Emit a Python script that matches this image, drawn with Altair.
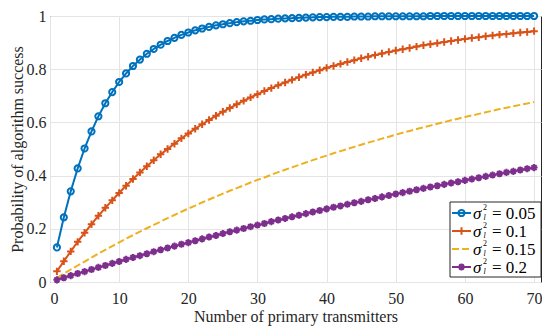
import altair as alt
import pandas as pd

# ---------------- data ----------------
N = list(range(1, 71))
series_keys = ["0.05", "0.1", "0.15", "0.2"]
colors = ["#0072BD", "#D95319", "#EDB120", "#7E2F8E"]

p_005 = [0.130, 0.243, 0.341, 0.427, 0.502, 0.566, 0.623, 0.672, 0.714, 0.752,
         0.784, 0.812, 0.836, 0.858, 0.876, 0.892, 0.906, 0.918, 0.929, 0.938,
         0.946, 0.953, 0.959, 0.965, 0.969, 0.973, 0.977, 0.980, 0.982, 0.985,
         0.987, 0.988, 0.990, 0.991, 0.992, 0.993, 0.994, 0.995, 0.996, 0.996,
         0.997, 0.997, 0.997, 0.998, 0.998, 0.998, 0.999, 0.999, 0.999, 0.999,
         0.999, 0.999, 0.999, 0.999, 1.000, 1.000, 1.000, 1.000, 1.000, 1.000,
         1.000, 1.000, 1.000, 1.000, 1.000, 1.000, 1.000, 1.000, 1.000, 1.000]

p_01 = [0.040, 0.078, 0.115, 0.151, 0.185, 0.217, 0.249, 0.279, 0.307, 0.335,
        0.362, 0.387, 0.412, 0.435, 0.458, 0.480, 0.500, 0.520, 0.540, 0.558,
        0.576, 0.593, 0.609, 0.625, 0.640, 0.654, 0.668, 0.681, 0.694, 0.706,
        0.718, 0.729, 0.740, 0.750, 0.760, 0.770, 0.779, 0.788, 0.796, 0.805,
        0.812, 0.820, 0.827, 0.834, 0.841, 0.847, 0.853, 0.859, 0.865, 0.870,
        0.875, 0.880, 0.885, 0.890, 0.894, 0.898, 0.902, 0.906, 0.910, 0.914,
        0.917, 0.920, 0.924, 0.927, 0.930, 0.932, 0.935, 0.938, 0.940, 0.943]

p_015 = [0.016, 0.032, 0.047, 0.062, 0.077, 0.092, 0.107, 0.121, 0.135, 0.149,
         0.163, 0.176, 0.189, 0.202, 0.215, 0.227, 0.240, 0.252, 0.264, 0.276,
         0.287, 0.299, 0.310, 0.321, 0.332, 0.343, 0.353, 0.363, 0.374, 0.384,
         0.393, 0.403, 0.413, 0.422, 0.431, 0.440, 0.449, 0.458, 0.467, 0.475,
         0.484, 0.492, 0.500, 0.508, 0.516, 0.524, 0.531, 0.539, 0.546, 0.554,
         0.561, 0.568, 0.575, 0.581, 0.588, 0.595, 0.601, 0.608, 0.614, 0.620,
         0.626, 0.632, 0.638, 0.644, 0.650, 0.655, 0.661, 0.666, 0.671, 0.677]

p_02 = [0.008, 0.016, 0.024, 0.032, 0.039, 0.047, 0.055, 0.062, 0.070, 0.077,
        0.085, 0.092, 0.099, 0.106, 0.114, 0.121, 0.128, 0.135, 0.142, 0.148,
        0.155, 0.162, 0.169, 0.175, 0.182, 0.189, 0.195, 0.201, 0.208, 0.214,
        0.220, 0.227, 0.233, 0.239, 0.245, 0.251, 0.257, 0.263, 0.269, 0.275,
        0.281, 0.286, 0.292, 0.298, 0.303, 0.309, 0.314, 0.320, 0.325, 0.331,
        0.336, 0.341, 0.347, 0.352, 0.357, 0.362, 0.367, 0.372, 0.377, 0.382,
        0.387, 0.392, 0.397, 0.402, 0.407, 0.412, 0.416, 0.421, 0.426, 0.430]

x_ticks = [0, 10, 20, 30, 40, 50, 60, 70]
y_ticks = [0, 0.2, 0.4, 0.6, 0.8, 1]

# ---------------- build table ----------------
rows = []
for key, vals in zip(series_keys, [p_005, p_01, p_015, p_02]):
    for n, v in zip(N, vals):
        rows.append({"N": n, "P": v, "s": key})
df = pd.DataFrame(rows)

PLUS = "M-1,0L1,0M0,-1L0,1"
STAR = "M-1,0L1,0M0,-1L0,1M-0.7,-0.7L0.7,0.7M-0.7,0.7L0.7,-0.7"
shapes = {"0.05": "circle", "0.1": PLUS, "0.2": STAR}
sizes = {"0.05": 38, "0.1": 55, "0.2": 50}
dashes = {"0.05": [1, 0], "0.1": [1, 0], "0.15": [7, 3], "0.2": [1, 0]}

FONT = "Liberation Serif"
TXT = "#262626"
W, H = 491, 266

color = alt.Color("s:N", scale=alt.Scale(domain=series_keys, range=colors), legend=None)
dash = alt.StrokeDash("s:N", scale=alt.Scale(domain=series_keys,
                                             range=[dashes[k] for k in series_keys]),
                      legend=None)

x_enc = alt.X("N:Q", scale=alt.Scale(domain=[0, 71], nice=False),
              axis=alt.Axis(values=x_ticks, format="d", title="Number of primary transmitters",
                            titleY=39, titleBaseline="alphabetic", labelPadding=8,
                            labelFont=FONT, labelFontSize=16, titleFont=FONT, titleFontSize=16,
                            labelColor=TXT, titleColor=TXT, titleFontWeight="normal"))
y_enc = alt.Y("P:Q", scale=alt.Scale(domain=[0, 1], nice=False),
              axis=alt.Axis(values=y_ticks, format="~g", title="Probability of algorithm success",
                            titleX=-33, titleY=H / 2, titleAngle=270, titleBaseline="middle",
                            titleAlign="center", labelPadding=4,
                            labelFont=FONT, labelFontSize=16, titleFont=FONT, titleFontSize=16,
                            labelColor=TXT, titleColor=TXT, titleFontWeight="normal"))

lines = alt.Chart(df).mark_line(strokeWidth=2).encode(
    x=x_enc, y=y_enc, color=color, strokeDash=dash, detail="s:N")

point_layers = []
for i, key in enumerate(series_keys):
    if key not in shapes:
        continue
    point_layers.append(
        alt.Chart(df).transform_filter(alt.datum.s == key).mark_point(
            filled=False, strokeWidth=2, size=sizes[key], opacity=1,
            shape=shapes[key], color=colors[i]).encode(x="N:Q", y="P:Q"))

# ---------------- manual legend ----------------
one = pd.DataFrame({"a": [0]})
legend_layers = [
    alt.Chart(one).mark_rect(fill="white", stroke="#262626", strokeWidth=1).encode(
        x=alt.value(400), x2=alt.value(491), y=alt.value(186), y2=alt.value(261))
]
for i, key in enumerate(series_keys):
    yy = 197 + 18.0 * i
    legend_layers.append(
        alt.Chart(one).mark_rule(strokeWidth=2, color=colors[i], strokeDash=dashes[key]).encode(
            x=alt.value(402), x2=alt.value(421), y=alt.value(yy)))
    if key in shapes:
        legend_layers.append(
            alt.Chart(one).mark_point(filled=False, strokeWidth=2, size=sizes[key], opacity=1,
                                      color=colors[i], shape=shapes[key]).encode(
                x=alt.value(411.5), y=alt.value(yy)))
    legend_layers.append(
        alt.Chart(one).mark_text(text="σ", font=FONT, fontSize=17, fontStyle="italic",
                                 align="left", baseline="middle", color="#000000").encode(
            x=alt.value(423), y=alt.value(yy + 1)))
    legend_layers.append(
        alt.Chart(one).mark_text(text="2", font=FONT, fontSize=8,
                                 align="left", baseline="middle", color="#000000").encode(
            x=alt.value(433), y=alt.value(yy - 5)))
    legend_layers.append(
        alt.Chart(one).mark_text(text="l", font=FONT, fontSize=8, fontStyle="italic",
                                 align="left", baseline="middle", color="#000000").encode(
            x=alt.value(433.5), y=alt.value(yy + 5)))
    legend_layers.append(
        alt.Chart(one).mark_text(text="= " + key, font=FONT, fontSize=17,
                                 align="left", baseline="middle", color="#000000").encode(
            x=alt.value(442), y=alt.value(yy + 1)))

chart = alt.layer(lines, *point_layers, *legend_layers).properties(
    width=W, height=H,
    autosize=alt.AutoSizeParams(type="none"),
    padding={"left": 42, "top": 8, "right": 1, "bottom": 46},
).configure_view(
    stroke="#262626", strokeWidth=1
).configure_axis(
    grid=True, gridColor="#e4e4e4", gridWidth=1, domain=False, ticks=False,
)

chart.save("out.html", embed_options={"renderer": "svg", "actions": False})
